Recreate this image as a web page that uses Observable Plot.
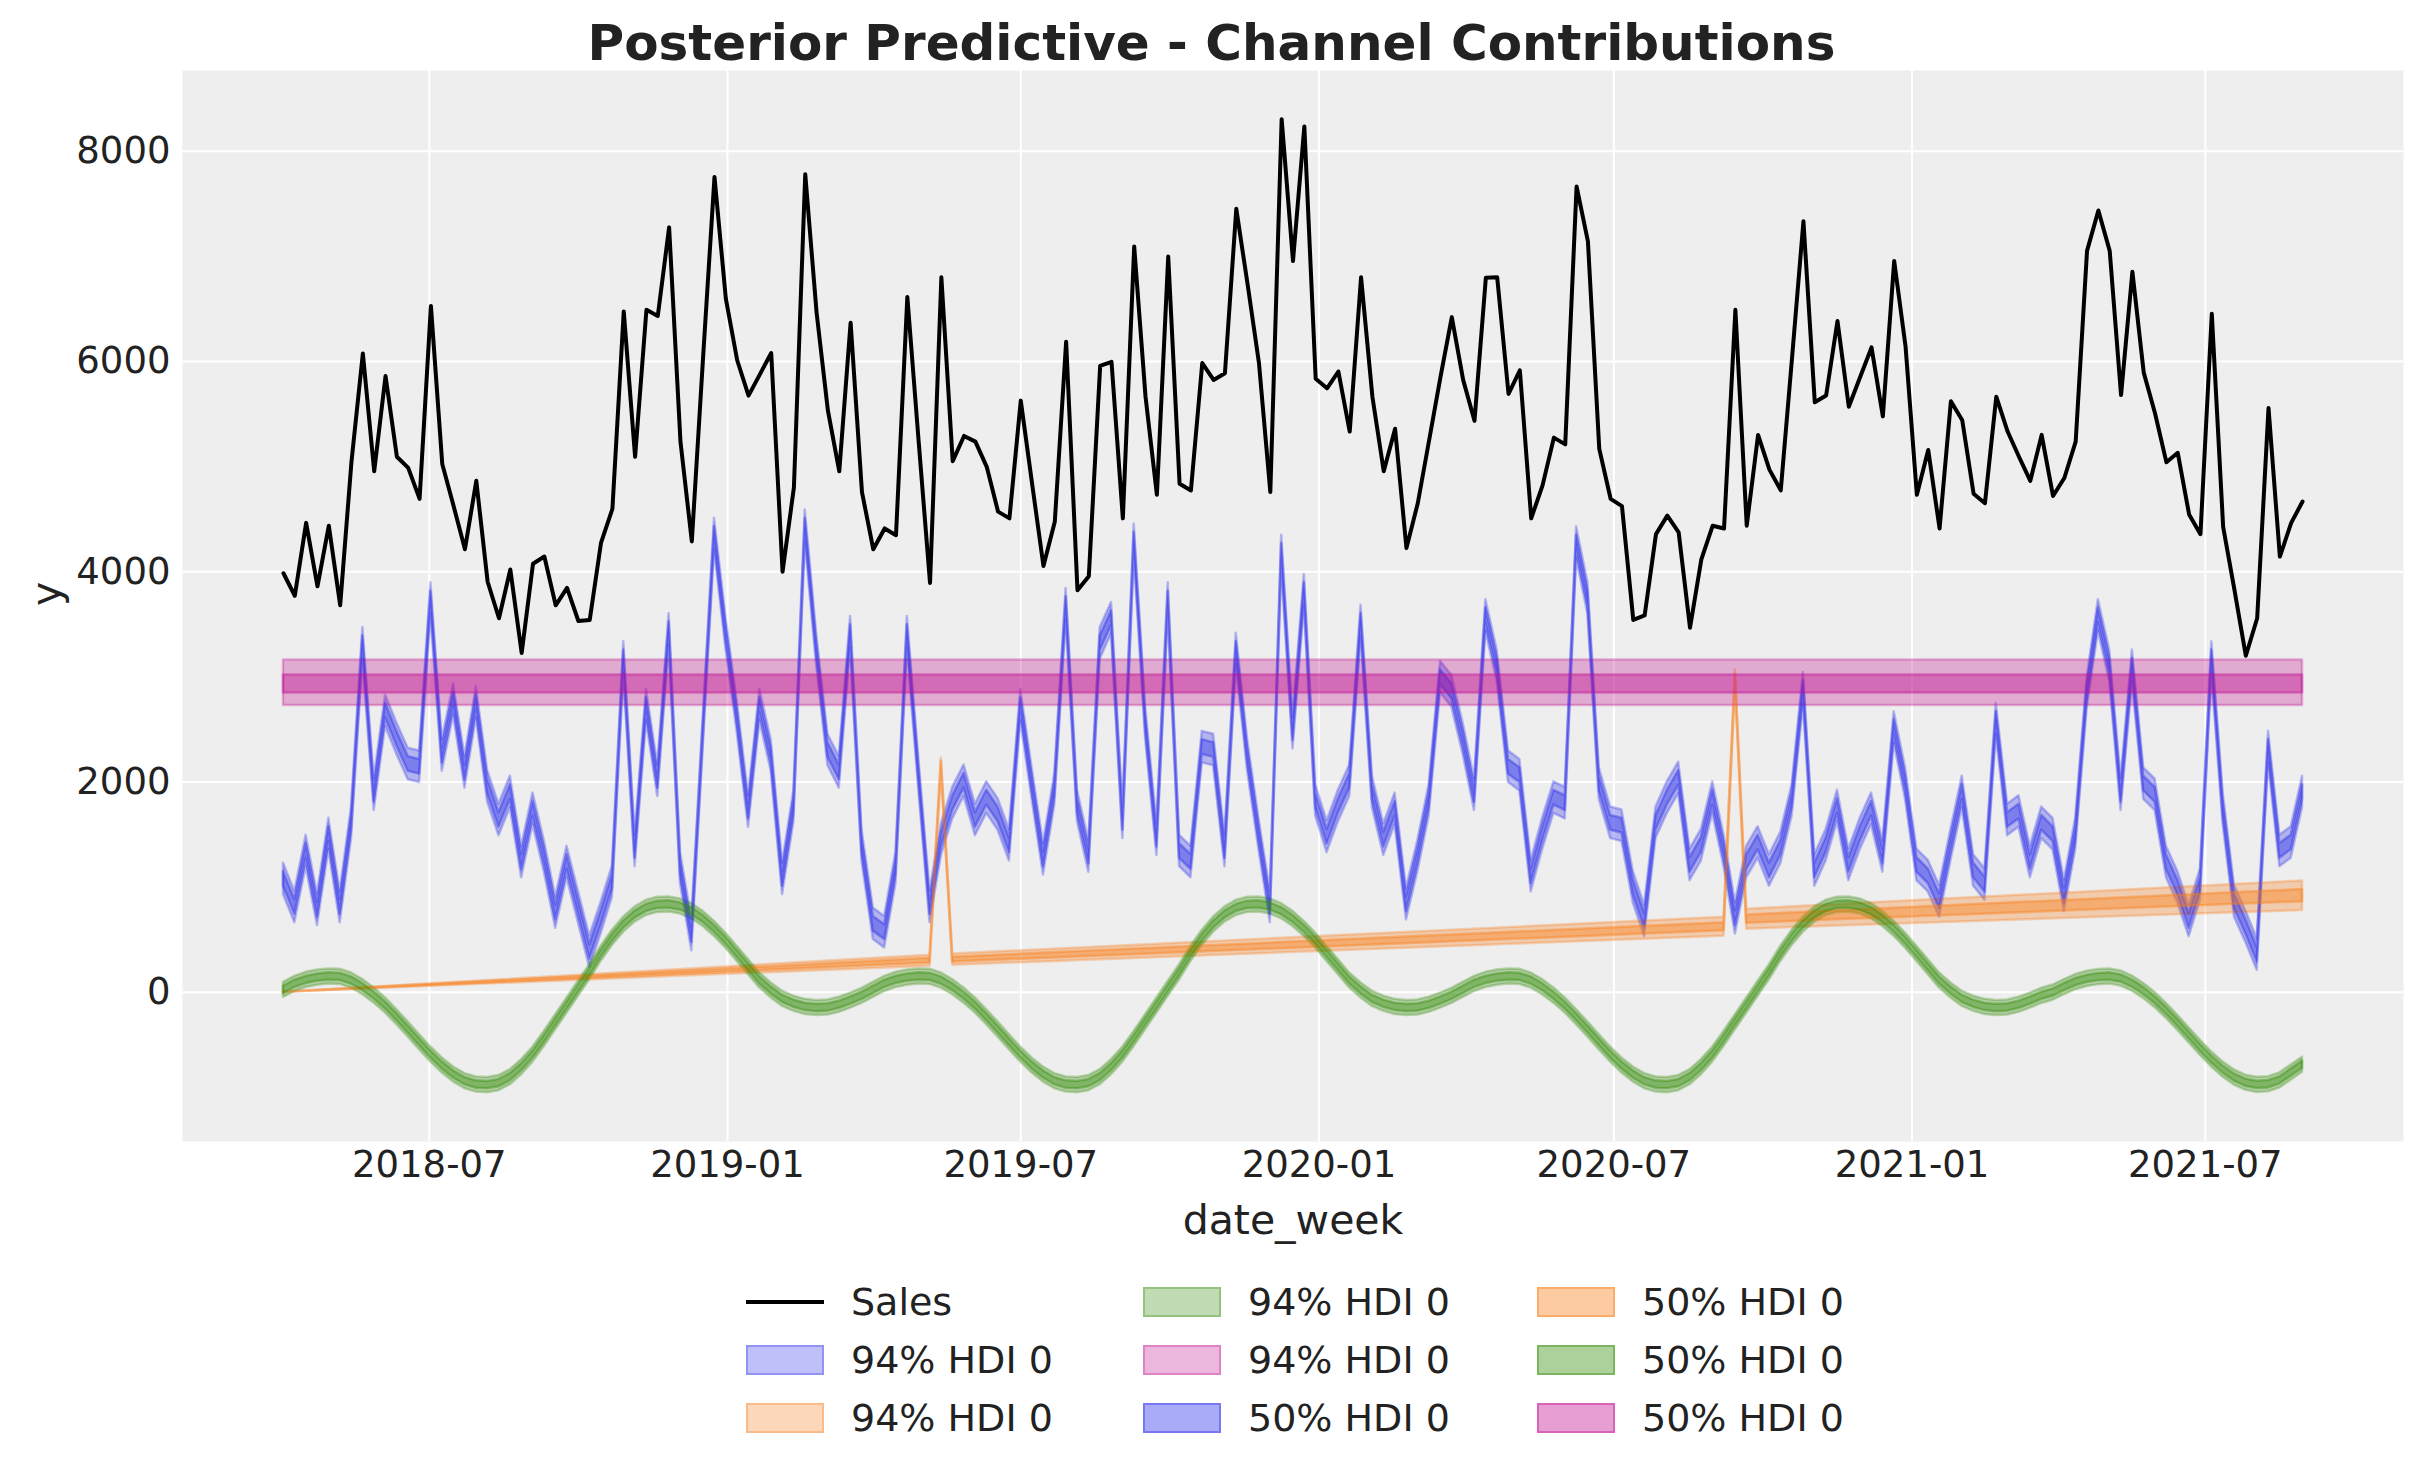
<!DOCTYPE html>
<html>
<head>
<meta charset="utf-8">
<script src="https://cdn.jsdelivr.net/npm/d3@7"></script>
<script src="https://cdn.jsdelivr.net/npm/@observablehq/plot@0.6"></script>
<style>
  html, body { margin: 0; padding: 0; background: #ffffff; }
  #wrap { position: relative; width: 2423px; height: 1473px; font-family: "DejaVu Sans", sans-serif; color: #222; }
  #title { position: absolute; left: 0; top: 18px; width: 2423px; text-align: center; font-size: 50px; font-weight: bold; line-height: 50px; }
  #chart { position: absolute; left: 0; top: 60px; }
  .leg { position: absolute; display: flex; align-items: center; height: 40px; font-size: 38px; line-height: 38px; }
  .sw { width: 74px; height: 26px; box-sizing: content-box; margin-right: 27px; }
  .ln { width: 78px; height: 4px; background: #000; margin-right: 27px; }
</style>
</head>
<body>
<div id="wrap">
  <div id="title">Posterior Predictive - Channel Contributions</div>
  <div id="chart"></div>
  <div id="legend"></div>
</div>
<script>
// ---- data (weekly, starting 2018-04-02) ----
const startDate = "2018-04-02";

const sales = [
  3985, 3771, 4464, 3861, 4437, 3680, 5051, 6075, 4955, 5861, 5093, 4987, 4693, 6528, 5024, 4624, 4213, 4864,
  3904, 3557, 4021, 3227, 4075, 4144, 3680, 3846, 3531, 3541, 4277, 4598, 6475, 5093, 6491, 6432, 7275, 5237,
  4288, 6050, 7755, 6597, 6011, 5675, 5877, 6080, 4000, 4800, 7781, 6464, 5531, 4955, 6368, 4757, 4213, 4411,
  4347, 6613, 5237, 3893, 6800, 5051, 5291, 5237, 4997, 4571, 4507, 5627, 4837, 4053, 4475, 6187, 3824, 3957,
  5957, 5995, 4507, 7093, 5664, 4731, 6997, 4837, 4773, 5984, 5824, 5888, 7451, 6731, 5984, 4757, 8304, 6955,
  8235, 5835, 5744, 5904, 5333, 6800, 5664, 4955, 5360, 4224, 4651, 5250, 5850, 6421, 5824, 5435, 6795, 6800,
  5691, 5915, 4507, 4821, 5275, 5211, 7664, 7141, 5168, 4693, 4624, 3541, 3584, 4357, 4533, 4373, 3467, 4117,
  4437, 4411, 6491, 4437, 5301, 4971, 4773, 6040, 7333, 5611, 5675, 6384, 5568, 5851, 6133, 5477, 6955, 6144,
  4731, 5157, 4411, 5621, 5440, 4741, 4651, 5664, 5333, 5093, 4864, 5301, 4720, 4891, 5237, 7051, 7435, 7051,
  5680, 6853, 5893, 5504, 5040, 5131, 4544, 4357, 6453, 4427, 3824, 3200, 3557, 5557, 4144, 4464, 4667
];

const blueContribution = [
  1078, 811, 1344, 784, 1504, 811, 1611, 3318, 1878, 2678, 2411, 2171, 2144, 3744, 2251, 2784, 2091, 2757,
  1958, 1638, 1904, 1238, 1744, 1291, 758, 1238, 811, 384, 704, 1051, 3184, 1344, 2731, 2011, 3451, 1184,
  544, 2464, 4357, 3424, 2624, 1718, 2731, 2251, 1078, 1771, 4437, 3264, 2304, 2091, 3424, 1398, 651, 571,
  1184, 3424, 2091, 811, 1450, 1798, 2011, 1638, 1851, 1691, 1398, 2731, 1984, 1264, 1931, 3691, 1771, 1291,
  3318, 3557, 1611, 4304, 2571, 1451, 3744, 1344, 1238, 2331, 2304, 1344, 3264, 2251, 1504, 811, 4197, 2464,
  3824, 1824, 1478, 1771, 2011, 3531, 1904, 1451, 1744, 838, 1291, 1824, 2997, 2864, 2411, 1878, 3584, 3104,
  2144, 2064, 1104, 1504, 1851, 1798, 4277, 3744, 1984, 1611, 1584, 998, 678, 1611, 1851, 2038, 1211, 1398,
  1851, 1344, 704, 1238, 1424, 1158, 1371, 1824, 2891, 1158, 1398, 1771, 1211, 1504, 1744, 1291, 2518, 1984,
  1211, 1104, 864, 1398, 1904, 1158, 1024, 2598, 1638, 1718, 1238, 1611, 1504, 918, 1504, 2838, 3584, 3104,
  1878, 3104, 1984, 1878, 1238, 998, 678, 1024, 3184, 1744, 864, 624, 358, 2331, 1344, 1424, 1904
];
const blueHalf94 = 150;
const blueHalf50 = 70;

const greenSeason = [
  22, 79, 117, 139, 149, 146, 111, 48, -32, -127, -238, -355, -476, -593, -697, -783, -846, -878, -884, -865,
  -808, -713, -593, -444, -285, -127, 32, 190, 365, 517, 644, 739, 802, 831, 834, 815, 770, 697, 602, 491,
  365, 238, 111, 16, -63, -110, -140, -150, -145, -120, -80, -35,
  22, 79, 117, 139, 149, 146, 111, 48, -32, -127, -238, -355, -476, -593, -697, -783, -846, -878, -884, -865,
  -808, -713, -593, -444, -285, -127, 32, 190, 365, 517, 644, 739, 802, 831, 834, 815, 770, 697, 602, 491,
  365, 238, 111, 16, -63, -110, -140, -150, -145, -120, -80, -35,
  22, 79, 117, 139, 149, 146, 111, 48, -32, -127, -238, -355, -476, -593, -697, -783, -846, -878, -884, -865,
  -808, -713, -593, -444, -285, -127, 32, 190, 365, 517, 644, 739, 802, 831, 834, 815, 770, 697, 602, 491,
  365, 238, 111, 16, -63, -110, -140, -150, -145, -120, -80, -35,
  -4, 48, 96, 127, 144, 149, 130, 82, 11, -75, -178, -292, -411, -530, -641, -737, -812, -861, -881, -875,
  -839, -764, -690
];
const greenHalf94 = 72;
const greenHalf50 = 35;

// orange: piecewise-linear trend with two event spikes (week index knots)
const orangeWeeks  = [0, 57, 58, 59, 127, 128, 129, 178];
const orangeMid    = [0, 300, 2170, 310, 622, 2995, 695, 918];
const orangeHalf94 = [0, 52, 60, 54, 90, 70, 95, 140];
const orangeHalf50 = [0, 22, 28, 23, 38, 30, 40, 58];

// pink: constant band
const pink94 = [2727, 3161];
const pink50 = [2847, 3018];

const yTicks = [0, 2000, 4000, 6000, 8000];
const xTickLabels = ["2018-07", "2019-01", "2019-07", "2020-01", "2020-07", "2021-01", "2021-07"];

const legendLabels = ["Sales", "94% HDI 0", "94% HDI 0", "94% HDI 0", "94% HDI 0", "50% HDI 0", "50% HDI 0", "50% HDI 0", "50% HDI 0"];

// ---- build ----
const colors = { blue: "#2a2eec", orange: "#fa7c17", green: "#328c06", pink: "#c10c90" };
const DAY = 864e5;
const t0 = new Date(startDate + "T00:00:00Z").getTime();
const dates = sales.map((_, i) => new Date(t0 + i * 7 * DAY));
const rows = dates.map((d, i) => ({
  date: d,
  sales: sales[i],
  b94lo: blueContribution[i] - blueHalf94, b94hi: blueContribution[i] + blueHalf94,
  b50lo: blueContribution[i] - blueHalf50, b50hi: blueContribution[i] + blueHalf50,
  g94lo: greenSeason[i] - greenHalf94, g94hi: greenSeason[i] + greenHalf94,
  g50lo: greenSeason[i] - greenHalf50, g50hi: greenSeason[i] + greenHalf50
}));
const orangeRows = orangeWeeks.map((k, i) => ({
  date: dates[k],
  o94lo: orangeMid[i] - orangeHalf94[i], o94hi: orangeMid[i] + orangeHalf94[i],
  o50lo: orangeMid[i] - orangeHalf50[i], o50hi: orangeMid[i] + orangeHalf50[i]
}));
const pinkRows = [dates[0], dates[dates.length - 1]].map(d => ({date: d}));

const span = dates[dates.length - 1] - dates[0];
const pad = span * 0.05;
const xDomain = [new Date(+dates[0] - pad), new Date(+dates[dates.length - 1] + pad)];
const xTicks = xTickLabels.map(s => new Date(s + "-01T00:00:00Z"));

const band = (data, y1, y2, color, alpha) => Plot.areaY(data, {
  x: "date", y1, y2, fill: color, fillOpacity: alpha, stroke: color, strokeOpacity: alpha, strokeWidth: 2.5, curve: "linear"
});

const chart = Plot.plot({
  width: 2423,
  height: 1196,
  marginLeft: 182,
  marginRight: 20,
  marginTop: 10,
  marginBottom: 115,
  style: { fontFamily: "DejaVu Sans", color: "#222", background: "transparent", overflow: "visible" },
  x: { type: "utc", domain: xDomain },
  y: { domain: [-1420, 8767] },
  marks: [
    Plot.frame({ fill: "#eeeeee", stroke: null }),
    Plot.gridX({ ticks: xTicks, stroke: "#ffffff", strokeOpacity: 1, strokeWidth: 2 }),
    Plot.gridY({ ticks: yTicks, stroke: "#ffffff", strokeOpacity: 1, strokeWidth: 2 }),
    Plot.axisX({ ticks: xTicks, tickFormat: d3.utcFormat("%Y-%m"), tickSize: 0, tickPadding: 9, fontSize: 37, label: null }),
    Plot.axisY({ ticks: yTicks, tickFormat: d => String(d), tickSize: 0, tickPadding: 12, fontSize: 37, label: null }),
    Plot.lineY(rows, { x: "date", y: "sales", stroke: "#000000", strokeWidth: 4 }),
    band(rows, "b94lo", "b94hi", colors.blue, 0.3),
    band(orangeRows, "o94lo", "o94hi", colors.orange, 0.3),
    band(rows, "g94lo", "g94hi", colors.green, 0.3),
    band(pinkRows, () => pink94[0], () => pink94[1], colors.pink, 0.3),
    band(rows, "b50lo", "b50hi", colors.blue, 0.4),
    band(orangeRows, "o50lo", "o50hi", colors.orange, 0.4),
    band(rows, "g50lo", "g50hi", colors.green, 0.4),
    band(pinkRows, () => pink50[0], () => pink50[1], colors.pink, 0.4),
    Plot.text(["date_week"], { frameAnchor: "bottom", dy: 92, fontSize: 41, fill: "#222" }),
    Plot.text(["y"], { frameAnchor: "left", dx: -136, rotate: -90, fontSize: 41, fill: "#222" })
  ]
});
document.getElementById("chart").appendChild(chart);

// ---- legend (3 columns, column-major like matplotlib) ----
function rgba(hex, a) {
  const c = d3.rgb(hex);
  return `rgba(${c.r},${c.g},${c.b},${a})`;
}
const legendSwatches = [
  null,
  [colors.blue, 0.3], [colors.orange, 0.3], [colors.green, 0.3], [colors.pink, 0.3],
  [colors.blue, 0.4], [colors.orange, 0.4], [colors.green, 0.4], [colors.pink, 0.4]
];
const colLeft = [746, 1143, 1537];
const rowCenter = [1302, 1360, 1418];
const legend = document.getElementById("legend");
legendLabels.forEach((lab, i) => {
  const col = Math.floor(i / 3), row = i % 3;
  const item = document.createElement("div");
  item.className = "leg";
  item.style.left = colLeft[col] + "px";
  item.style.top = (rowCenter[row] - 20) + "px";
  const sw = document.createElement("div");
  if (legendSwatches[i] === null) {
    sw.className = "ln";
  } else {
    const [c, a] = legendSwatches[i];
    sw.className = "sw";
    sw.style.background = rgba(c, a);
    sw.style.border = `2px solid ${rgba(c, a)}`;
  }
  const tx = document.createElement("span");
  tx.textContent = lab;
  item.appendChild(sw);
  item.appendChild(tx);
  legend.appendChild(item);
});
</script>
</body>
</html>
